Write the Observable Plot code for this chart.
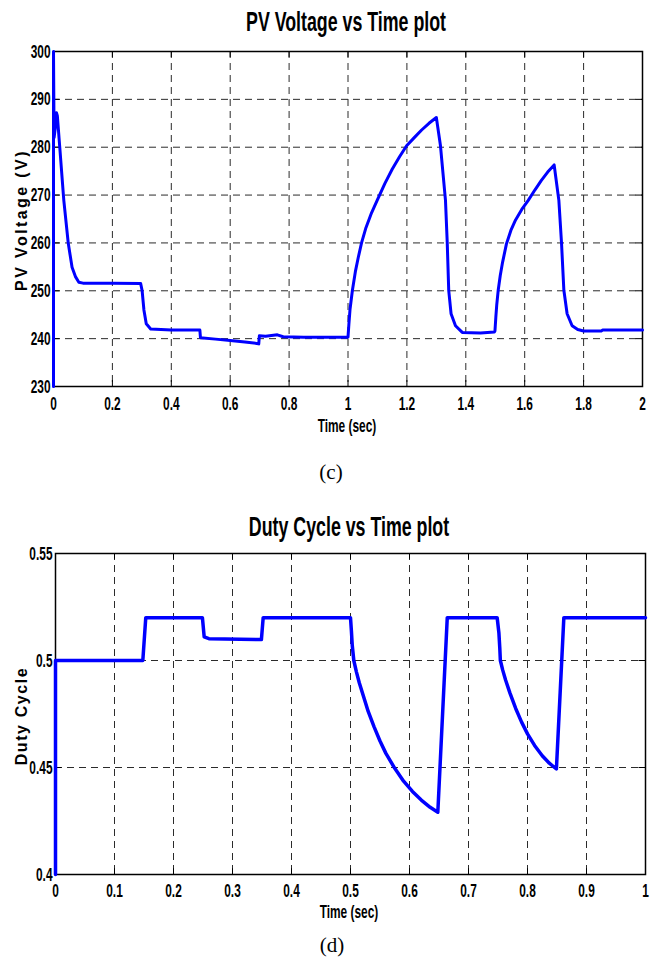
<!DOCTYPE html>
<html>
<head>
<meta charset="utf-8">
<script src="https://cdn.jsdelivr.net/npm/d3@7"></script>
<script src="https://cdn.jsdelivr.net/npm/@observablehq/plot@0.6"></script>
<style>
  html, body { margin: 0; padding: 0; background: #fff; }
  #wrap { position: relative; width: 658px; height: 969px; overflow: hidden; background: #fff; }
  #wrap svg { position: absolute; left: 0; }
  .lbl { position: absolute; font-family: "Liberation Sans", Arial, sans-serif; font-weight: bold; white-space: pre; line-height: 1; color: #000; }
  .title { font-size: 21.7px; transform: translate(-50%, -50%) scale(0.82, 1.3); }
  .xlab { font-size: 14.5px; transform: translate(-50%, -50%) scale(0.82, 1.3); }
  .ylab { font-size: 16px; transform: translate(-50%, -50%) rotate(-90deg); }
  .cap { position: absolute; font-family: "Liberation Serif", "Times New Roman", serif; font-size: 21px; line-height: 1; transform: translate(-50%, -50%); white-space: pre; }
</style>
</head>
<body>
<div id="wrap"></div>
<script>
// ---------- data: chart (c) PV voltage ----------
const pvTime = [0, 0, 0.002, 0.006, 0.010, 0.013, 0.021, 0.035, 0.050, 0.063,
  0.075, 0.086, 0.10, 0.20, 0.296, 0.301, 0.307, 0.315, 0.330, 0.40,
  0.497, 0.499, 0.55, 0.60, 0.65, 0.69, 0.697, 0.699, 0.72, 0.76,
  0.78, 0.85, 1.000, 1.003, 1.007, 1.015, 1.025, 1.035, 1.046, 1.060,
  1.080, 1.099, 1.125, 1.150, 1.175, 1.199, 1.225, 1.250, 1.275, 1.300,
  1.314, 1.331, 1.337, 1.342, 1.350, 1.365, 1.388, 1.45, 1.497, 1.499,
  1.502, 1.505, 1.510, 1.517, 1.525, 1.538, 1.553, 1.569, 1.590, 1.612,
  1.635, 1.656, 1.678, 1.700, 1.706, 1.716, 1.725, 1.733, 1.744, 1.761,
  1.78, 1.80, 1.86, 1.865, 2.00];
const pvVolt = [230, 300, 282, 284, 287.2, 286.6, 280.2, 268.9, 260, 254.9,
  252.9, 251.8, 251.6, 251.6, 251.5, 250, 246, 243.1, 242.0, 241.8,
  241.8, 240.2, 239.9, 239.6, 239.3, 239.0, 238.9, 240.6, 240.5, 240.8,
  240.4, 240.3, 240.3, 243.0, 246.2, 250.1, 254.0, 257.0, 260.0, 263.0,
  266.3, 268.9, 272.4, 275.4, 278.0, 280.3, 282.0, 283.6, 285.0, 286.2,
  280.3, 268.9, 260, 250.1, 245.2, 242.7, 241.3, 241.2, 241.4, 241.6,
  244.5, 247.0, 250.1, 253.2, 256.0, 259.8, 262.6, 264.8, 267.0, 268.9,
  271.1, 273.0, 274.8, 276.3, 273.5, 268.9, 260, 250.1, 245.2, 242.7,
  241.9, 241.6, 241.6, 241.8, 241.8];
const pvXTicks = [0, 0.2, 0.4, 0.6, 0.8, 1, 1.2, 1.4, 1.6, 1.8, 2];
const pvYTicks = [230, 240, 250, 260, 270, 280, 290, 300];

// ---------- data: chart (d) duty cycle ----------
const dutyTime = [0, 0, 0.148, 0.153, 0.249, 0.252, 0.26, 0.349, 0.352, 0.500,
  0.5015, 0.503, 0.5056, 0.510, 0.515, 0.520, 0.530, 0.540, 0.550, 0.560,
  0.575, 0.590, 0.605, 0.620, 0.635, 0.648, 0.664,
  0.7486, 0.7515, 0.753, 0.754, 0.758, 0.763, 0.770, 0.780, 0.790, 0.800,
  0.812, 0.825, 0.837, 0.849, 0.8616, 1.0];
const dutyVal = [0.4, 0.5, 0.5, 0.52, 0.52, 0.511, 0.5102, 0.5098, 0.52, 0.52,
  0.514, 0.507, 0.500, 0.4947, 0.4895, 0.4850, 0.4762, 0.4690, 0.4624, 0.4566,
  0.4496, 0.4436, 0.4388, 0.4348, 0.4314, 0.4291, 0.52,
  0.52, 0.513, 0.506, 0.500, 0.4955, 0.4908, 0.4850, 0.4776, 0.4712, 0.4657,
  0.4603, 0.4555, 0.4520, 0.4493, 0.52, 0.52];
const dutyXTicks = [0, 0.1, 0.2, 0.3, 0.4, 0.5, 0.6, 0.7, 0.8, 0.9, 1];
const dutyYTicks = [0.4, 0.45, 0.5, 0.55];

// ---------- texts ----------
const texts = {
  title1: "PV Voltage vs Time plot",
  title2: "Duty Cycle vs Time plot",
  xlab: "Time (sec)",
  ylab1: "PV Voltage (V)",
  ylab2: "Duty Cycle",
  cap1: "(c)",
  cap2: "(d)"
};

const FONT = "'Liberation Sans', Arial, sans-serif";
const fmt = d => String(+d.toFixed(2));

function makeChart(o) {
  const data = o.tx.map((t, i) => ({t, v: o.vy[i]}));
  const [x0, x1] = o.xd, [y0, y1] = o.yd;
  const tx = (x1 - x0) * 0.011, ty = (y1 - y0) * 0.018;
  const grid = {stroke: "#2b2b2b", strokeOpacity: 1, strokeWidth: 1, strokeDasharray: "7,5"};
  const svg = Plot.plot({
    width: 658, height: o.height,
    marginTop: o.mt, marginLeft: o.ml, marginRight: o.mr, marginBottom: o.mb,
    x: {domain: o.xd}, y: {domain: o.yd},
    style: {fontFamily: FONT, fontSize: "14.5px", fontWeight: "bold", background: "transparent", overflow: "visible", color: "#000"},
    marks: [
      Plot.gridX(o.xt, grid),
      Plot.gridY(o.yt, grid),
      Plot.ruleX(o.xt, {x: d => d, y1: y0, y2: y0 + ty, stroke: "#000"}),
      Plot.ruleX(o.xt, {x: d => d, y1: y1 - ty, y2: y1, stroke: "#000"}),
      Plot.ruleY(o.yt, {y: d => d, x1: x0, x2: x0 + tx, stroke: "#000"}),
      Plot.ruleY(o.yt, {y: d => d, x1: x1 - tx, x2: x1, stroke: "#000"}),
      Plot.frame({stroke: "#000", strokeWidth: 1.5}),
      Plot.axisX({ticks: o.xt, tickFormat: fmt, tickSize: 0, tickPadding: o.xpad, label: null, fontSize: 14.5, fontWeight: "bold", fill: "#000"}),
      Plot.axisY({ticks: o.yt, tickFormat: fmt, tickSize: 0, tickPadding: 3, label: null, fontSize: 14.5, fontWeight: "bold", fill: "#000"}),
      Plot.line(data, {x: "t", y: "v", stroke: "#0000ff", strokeWidth: o.lw})
    ]
  });
  svg.querySelectorAll("text").forEach(t => {
    const tr = t.getAttribute("transform") || "";
    t.setAttribute("transform", tr + " scale(0.82,1.3)");
  });
  svg.style.top = o.top + "px";
  return svg;
}

const wrap = document.getElementById("wrap");
wrap.appendChild(makeChart({tx: pvTime, vy: pvVolt, xd: [0, 2], yd: [230, 300], xt: pvXTicks, yt: pvYTicks,
  height: 430, top: 0, mt: 51, ml: 53, mr: 16, mb: 44, xpad: 10, lw: 3}));
wrap.appendChild(makeChart({tx: dutyTime, vy: dutyVal, xd: [0, 1], yd: [0.4, 0.55], xt: dutyXTicks, yt: dutyYTicks,
  height: 420, top: 500, mt: 53, ml: 55, mr: 13, mb: 46, xpad: 9, lw: 3.5}));

function addText(cls, txt, x, y, extra) {
  const d = document.createElement("div");
  d.className = cls;
  d.textContent = txt;
  d.style.left = x + "px";
  d.style.top = y + "px";
  if (extra) Object.assign(d.style, extra);
  wrap.appendChild(d);
}
addText("lbl title", texts.title1, 346, 22);
addText("lbl title", texts.title2, 349, 527);
addText("lbl xlab", texts.xlab, 347, 426);
addText("lbl xlab", texts.xlab, 349, 912);
addText("lbl ylab", texts.ylab1, 22, 220, {letterSpacing: "2.4px"});
addText("lbl ylab", texts.ylab2, 22, 716, {letterSpacing: "1.6px"});
addText("cap", texts.cap1, 331, 471.6);
addText("cap", texts.cap2, 332, 944.5);
</script>
</body>
</html>
